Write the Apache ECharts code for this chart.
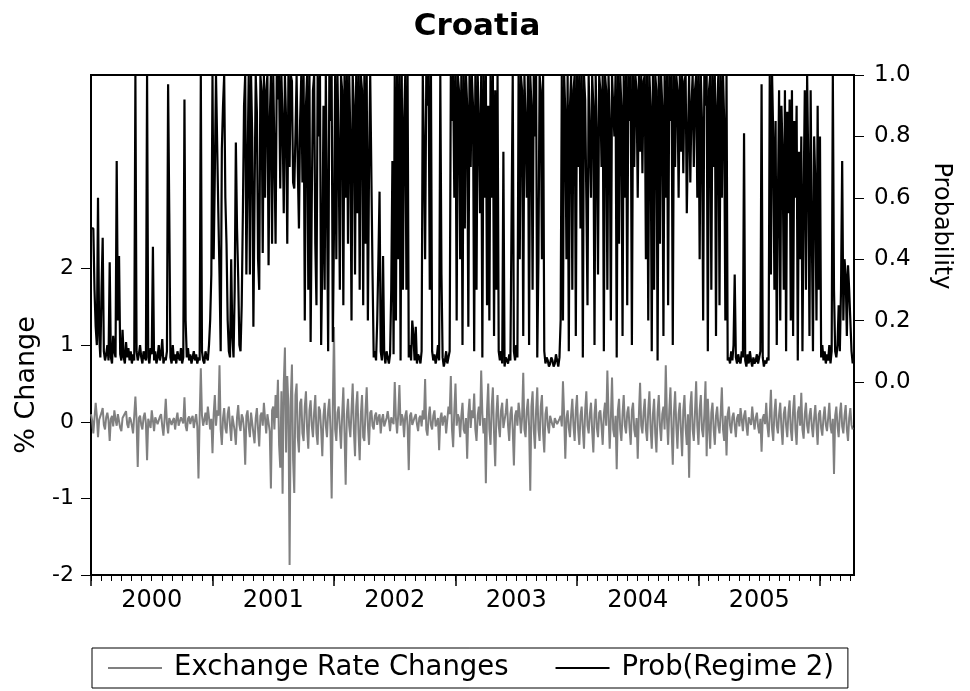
<!DOCTYPE html>
<html>
<head>
<meta charset="utf-8">
<title>Croatia</title>
<script src="https://cdn.jsdelivr.net/npm/echarts@6/dist/echarts.min.js"></script>
<style>
  html, body { margin: 0; padding: 0; background: #fff; }
  #chart { width: 970px; height: 691px; }
</style>
</head>
<body>
<div id="chart"></div>
<script>
// twice-weekly observations, starting at the beginning of 2000
var START_YEAR = 2000;
var STEP = 1 / 104;
var X_MAX = 2006.28;

// year boundaries (long ticks) and label positions (middle of each year)
var yearTicks = [2000, 2001, 2002, 2003, 2004, 2005, 2006];
var yearLabels = [2000.5, 2001.5, 2002.5, 2003.5, 2004.5, 2005.5];
var leftTicks = [-2, -1, 0, 1, 2];
var rightTicks = [0, 0.2, 0.4, 0.6, 0.8, 1.0];

// Exchange Rate Changes (% change), left axis
var rateChanges = [
  0.10, 0.02, -0.15, 0.05, 0.25, 0.08, -0.20, 0.03, 0.05, 0.12,
  0.18, -0.04, -0.10, 0.06, 0.12, 0.02, -0.25, 0.04, 0.08, -0.06,
  0.15, 0.03, -0.05, 0.10, 0.10, -0.08, -0.12, 0.05, 0.06, 0.11,
  0.14, -0.03, -0.08, 0.06, 0.03, -0.05, -0.15, 0.08, 0.33, 0.02,
  -0.59, 0.05, 0.08, -0.04, -0.10, 0.06, 0.12, -0.02, -0.50, 0.04,
  0.05, -0.08, 0.15, 0.02, -0.12, 0.06, 0.08, -0.03, -0.05, 0.07,
  0.10, -0.06, -0.18, 0.04, 0.30, -0.02, -0.15, 0.05, 0.06, -0.04,
  0.02, 0.05, -0.10, 0.03, 0.12, -0.05, -0.04, 0.06, 0.08, -0.02,
  0.32, -0.05, -0.12, 0.04, 0.07, -0.03, 0.04, 0.08, -0.08, 0.02,
  0.10, -0.06, -0.74, 0.05, 0.70, 0.08, -0.05, 0.03, 0.12, -0.04,
  0.20, 0.06, -0.10, 0.04, -0.41, 0.10, 0.35, -0.05, 0.15, 0.08,
  0.74, -0.10, -0.30, 0.05, 0.18, -0.08, -0.15, 0.10, 0.20, -0.05,
  -0.25, 0.08, 0.10, -0.12, -0.30, 0.06, 0.22, -0.04, -0.12, 0.10,
  0.05, -0.10, -0.56, 0.08, 0.15, -0.06, -0.20, 0.12, 0.10, -0.15,
  -0.28, 0.05, 0.18, -0.10, -0.32, 0.08, 0.12, -0.05, 0.25, 0.04,
  -0.15, 0.10, 0.08, -0.12, -0.87, 0.15, 0.20, -0.10, 0.35, 0.05,
  0.55, -0.30, -0.60, 0.40, -0.94, 0.50, 0.97, -0.40, 0.60, 0.20,
  -1.87, 0.30, 0.75, -0.50, -0.93, 0.35, 0.50, -0.20, -0.40, 0.25,
  0.30, -0.15, -0.25, 0.20, 0.40, -0.10, -0.35, 0.15, 0.28, -0.05,
  -0.20, 0.12, 0.35, -0.15, -0.30, 0.20, 0.15, -0.10, -0.45, 0.08,
  0.25, -0.05, -0.20, 0.15, 0.30, -0.10, -1.00, 0.20, 1.24, -0.10,
  -0.25, 0.12, 0.20, -0.08, -0.35, 0.10, 0.45, -0.15, -0.82, 0.10,
  0.30, -0.05, -0.20, 0.15, 0.50, -0.10, -0.45, 0.20, 0.40, -0.15,
  -0.50, 0.10, 0.35, -0.20, -0.25, 0.15, 0.45, -0.05, -0.30, 0.12,
  0.15, -0.05, -0.10, 0.08, 0.12, -0.04, 0.05, 0.10, -0.15, 0.03,
  0.10, -0.06, -0.08, 0.05, 0.14, 0.02, -0.12, 0.06, 0.08, -0.03,
  0.52, 0.05, -0.15, 0.10, 0.48, -0.05, 0.10, 0.04, -0.20, 0.08,
  0.15, -0.05, -0.63, 0.08, 0.12, -0.04, -0.05, 0.06, 0.10, -0.03,
  -0.12, 0.05, 0.08, -0.06, 0.15, 0.03, 0.56, -0.10, -0.18, 0.06,
  0.20, -0.04, -0.10, 0.08, 0.15, -0.06, -0.08, 0.05, -0.37, 0.04,
  0.12, -0.05, 0.05, 0.08, -0.15, 0.03, 0.20, 0.10, 0.60, -0.10,
  -0.33, 0.15, 0.50, -0.05, 0.10, 0.05, -0.20, 0.08, 0.25, -0.10,
  -0.15, 0.05, -0.48, 0.10, 0.30, -0.08, 0.15, 0.05, 0.37, -0.10,
  -0.25, 0.08, 0.20, -0.05, 0.67, 0.10, -0.15, 0.05, -0.80, 0.15,
  0.50, -0.10, -0.30, 0.20, 0.45, -0.15, -0.58, 0.10, 0.35, -0.05,
  -0.20, 0.15, 0.25, -0.08, -0.10, 0.12, 0.30, -0.05, -0.25, 0.10,
  0.20, -0.10, -0.57, 0.08, 0.15, -0.05, 0.25, 0.10, -0.15, 0.05,
  0.64, -0.10, -0.20, 0.15, 0.30, -0.05, -0.90, 0.20, 0.40, -0.10,
  -0.35, 0.15, 0.45, -0.10, -0.25, 0.20, 0.35, -0.15, -0.40, 0.10,
  0.20, -0.05, -0.15, 0.08, 0.10, -0.04, -0.08, 0.05, 0.06, -0.03,
  -0.05, 0.04, 0.08, -0.06, 0.53, 0.10, -0.48, 0.05, 0.15, -0.08,
  -0.20, 0.10, 0.30, -0.05, -0.25, 0.15, 0.35, -0.10, -0.30, 0.08,
  0.20, -0.10, -0.35, 0.15, 0.40, -0.05, -0.15, 0.10, 0.25, -0.12,
  -0.40, 0.10, 0.30, -0.08, -0.20, 0.12, 0.15, -0.05, -0.30, 0.10,
  0.25, -0.05, 0.67, 0.10, -0.35, 0.05, 0.58, -0.10, -0.20, 0.08,
  -0.62, 0.15, 0.30, -0.10, -0.25, 0.10, 0.35, -0.05, -0.15, 0.12,
  0.20, -0.08, -0.30, 0.15, 0.25, -0.10, -0.20, 0.05, -0.48, 0.10,
  0.51, -0.05, -0.15, 0.12, 0.30, -0.10, -0.25, 0.15, 0.40, -0.08,
  -0.35, 0.10, 0.30, -0.15, -0.40, 0.12, 0.35, -0.05, -0.25, 0.10,
  0.20, -0.10, 0.74, 0.05, -0.30, 0.15, 0.45, -0.10, -0.56, 0.12,
  0.40, -0.05, -0.35, 0.10, 0.25, -0.12, -0.45, 0.15, 0.35, -0.08,
  -0.30, 0.10, -0.73, 0.20, 0.40, -0.10, -0.25, 0.12, 0.53, -0.05,
  -0.30, 0.15, 0.35, -0.10, -0.20, 0.10, 0.53, -0.45, 0.30, -0.05,
  -0.35, 0.12, 0.25, -0.10, -0.30, 0.08, 0.20, -0.05, -0.15, 0.10,
  0.45, -0.10, -0.25, 0.08, -0.44, 0.10, 0.20, -0.05, -0.15, 0.06,
  0.12, -0.04, -0.20, 0.05, 0.10, -0.06, 0.18, 0.04, -0.12, 0.08,
  0.15, -0.05, -0.18, 0.06, 0.08, -0.04, 0.20, 0.03, -0.10, 0.05,
  0.12, -0.06, -0.15, 0.04, -0.39, 0.05, 0.10, -0.03, 0.25, -0.05,
  -0.20, 0.08, 0.42, -0.10, -0.25, 0.12, 0.30, -0.05, -0.15, 0.10,
  0.25, -0.08, -0.30, 0.10, 0.20, -0.05, -0.20, 0.12, 0.28, -0.10,
  -0.25, 0.15, 0.35, -0.10, -0.30, 0.12, 0.20, -0.05, 0.38, -0.10,
  -0.22, 0.10, 0.25, -0.05, -0.15, 0.08, 0.18, -0.06, -0.20, 0.05,
  0.22, -0.05, -0.30, 0.10, 0.15, -0.08, -0.18, 0.06, 0.20, -0.04,
  -0.12, 0.05, 0.25, -0.06, -0.15, 0.04, -0.68, 0.08, 0.20, -0.05,
  -0.20, 0.10, 0.25, -0.06, -0.15, 0.08, 0.22, -0.10, -0.25, 0.05,
  0.18, -0.04, -0.10
];

// Prob(Regime 2), right axis
var regimeProb = [
  0.50, 0.50, 0.50, 0.30, 0.18, 0.12, 0.60, 0.15, 0.08, 0.30,
  0.47, 0.10, 0.07, 0.09, 0.12, 0.07, 0.39, 0.08, 0.06, 0.15,
  0.10, 0.08, 0.72, 0.20, 0.41, 0.09, 0.07, 0.17, 0.08, 0.06,
  0.13, 0.08, 0.11, 0.07, 0.10, 0.06, 0.09, 0.07, 1.00, 0.10,
  0.07, 0.09, 0.12, 0.08, 0.06, 0.10, 0.08, 0.07, 1.00, 0.08,
  0.06, 0.11, 0.09, 0.44, 0.07, 0.10, 0.06, 0.08, 0.12, 0.07,
  0.09, 0.14, 0.06, 0.08, 0.07, 0.10, 0.97, 0.55, 0.08, 0.06,
  0.12, 0.07, 0.09, 0.06, 0.10, 0.08, 0.07, 0.11, 0.06, 0.08,
  0.92, 0.20, 0.08, 0.11, 0.07, 0.09, 0.06, 0.08, 0.10, 0.07,
  0.09, 0.06, 0.08, 0.07, 1.00, 0.10, 0.07, 0.06, 0.10, 0.08,
  0.07, 0.12, 0.20, 0.35, 1.00, 0.40, 0.68, 1.00, 1.00, 0.55,
  0.35, 0.10, 0.76, 0.90, 1.00, 0.60, 0.45, 0.20, 0.10, 0.08,
  0.40, 0.15, 0.08, 0.30, 0.78, 0.50, 0.34, 0.12, 0.10, 0.25,
  0.55, 0.90, 1.00, 0.35, 0.70, 1.00, 0.35, 1.00, 0.80, 0.18,
  0.60, 1.00, 0.88, 0.40, 0.30, 1.00, 0.95, 0.42, 1.00, 0.60,
  0.95, 1.00, 0.38, 0.85, 1.00, 0.45, 1.00, 0.75, 0.45, 1.00,
  0.92, 1.00, 0.63, 1.00, 0.85, 0.55, 1.00, 0.85, 0.45, 1.00,
  0.70, 1.00, 0.98, 0.65, 0.63, 0.80, 1.00, 0.70, 0.50, 0.85,
  1.00, 0.65, 1.00, 0.20, 0.90, 1.00, 0.30, 1.00, 0.13, 0.60,
  0.95, 1.00, 0.45, 0.25, 1.00, 0.80, 1.00, 0.12, 0.40, 0.90,
  0.30, 1.00, 0.60, 0.10, 1.00, 0.85, 1.00, 0.13, 0.50, 1.00,
  0.40, 1.00, 0.75, 0.30, 1.00, 0.95, 0.25, 1.00, 0.60, 1.00,
  0.45, 1.00, 0.80, 0.20, 1.00, 0.90, 0.35, 1.00, 0.55, 1.00,
  0.30, 1.00, 0.95, 0.25, 1.00, 0.45, 1.00, 0.20, 0.70, 1.00,
  1.00, 0.35, 0.08, 0.10, 0.07, 0.20, 0.40, 0.62, 0.10, 0.07,
  0.41, 0.09, 0.06, 0.10, 0.08, 0.06, 0.09, 0.30, 0.72, 0.09,
  1.00, 0.20, 1.00, 0.40, 1.00, 0.07, 1.00, 0.30, 0.85, 1.00,
  0.30, 1.00, 0.08, 0.12, 0.07, 0.20, 0.15, 0.07, 0.18, 0.06,
  0.09, 0.08, 0.06, 0.10, 1.00, 0.75, 0.40, 1.00, 0.90, 1.00,
  0.30, 1.00, 0.10, 0.07, 0.09, 0.06, 0.08, 0.12, 0.07, 1.00,
  0.35, 0.08, 0.05, 0.07, 0.10, 0.06, 0.08, 0.10, 1.00, 0.85,
  1.00, 0.60, 1.00, 0.20, 1.00, 0.95, 0.40, 1.00, 0.12, 1.00,
  0.50, 1.00, 0.90, 0.18, 1.00, 0.70, 1.00, 0.90, 0.10, 1.00,
  0.30, 1.00, 0.85, 0.55, 1.00, 0.08, 1.00, 0.60, 1.00, 0.25,
  0.90, 0.20, 1.00, 0.60, 1.00, 0.15, 0.95, 0.30, 1.00, 0.10,
  0.07, 0.10, 0.06, 0.75, 0.05, 0.08, 0.07, 0.06, 0.09, 0.07,
  0.07, 1.00, 0.10, 0.07, 0.12, 0.08, 1.00, 0.40, 1.00, 0.95,
  0.15, 1.00, 0.85, 0.60, 1.00, 0.12, 1.00, 0.90, 0.30, 1.00,
  0.80, 1.00, 0.08, 0.40, 1.00, 0.95, 0.40, 1.00, 0.10, 0.06,
  0.08, 0.07, 0.05, 0.06, 0.08, 0.07, 0.05, 0.06, 0.09, 0.07,
  0.05, 0.08, 0.20, 1.00, 0.20, 1.00, 0.88, 0.40, 1.00, 0.10,
  0.90, 1.00, 0.30, 0.95, 1.00, 0.15, 1.00, 0.70, 1.00, 0.50,
  1.00, 0.08, 1.00, 0.92, 0.60, 0.25, 1.00, 1.00, 0.60, 1.00,
  0.90, 0.12, 1.00, 0.80, 0.35, 1.00, 0.95, 0.70, 1.00, 0.10,
  1.00, 0.95, 0.30, 1.00, 0.85, 0.20, 1.00, 0.90, 0.80, 1.00,
  0.08, 1.00, 0.45, 1.00, 0.90, 0.15, 1.00, 0.60, 1.00, 0.25,
  1.00, 0.85, 1.00, 0.12, 1.00, 0.70, 1.00, 0.95, 0.60, 1.00,
  0.75, 1.00, 0.68, 0.98, 1.00, 0.40, 1.00, 0.20, 1.00, 0.90,
  0.10, 1.00, 0.30, 1.00, 0.95, 0.07, 1.00, 0.45, 1.00, 0.90,
  0.15, 1.00, 0.60, 1.00, 0.25, 1.00, 0.85, 1.00, 0.12, 1.00,
  0.70, 1.00, 0.95, 0.60, 1.00, 0.75, 1.00, 0.68, 0.98, 1.00,
  0.55, 0.80, 1.00, 0.65, 0.90, 1.00, 0.70, 0.95, 1.00, 0.60,
  1.00, 0.40, 1.00, 0.85, 0.20, 1.00, 0.90, 1.00, 0.10, 0.95,
  1.00, 0.30, 1.00, 0.70, 1.00, 0.15, 0.90, 1.00, 0.25, 1.00,
  0.60, 1.00, 0.85, 0.20, 1.00, 0.07, 0.08, 0.06, 0.10, 0.07,
  0.12, 0.35, 0.08, 0.06, 0.09, 0.07, 0.06, 0.10, 0.08, 0.81,
  0.07, 0.05, 0.09, 0.06, 0.10, 0.07, 0.05, 0.08, 0.06, 0.07,
  0.09, 0.06, 0.08, 0.10, 0.97, 0.08, 0.05, 0.07, 0.06, 0.08,
  0.07, 1.00, 0.35, 1.00, 0.80, 0.30, 0.85, 0.12, 0.60, 0.95,
  0.20, 0.90, 0.75, 0.30, 0.95, 0.10, 0.88, 0.55, 0.92, 0.20,
  0.95, 0.15, 0.85, 0.60, 0.90, 0.07, 0.75, 0.40, 0.80, 0.10,
  0.60, 0.95, 0.30, 1.00, 0.70, 0.15, 0.95, 0.50, 0.10, 0.80,
  0.65, 0.20, 0.90, 0.30, 0.80, 0.08, 0.12, 0.07, 0.10, 0.06,
  0.09, 0.07, 0.12, 0.06, 0.10, 1.00, 0.30, 0.10, 0.08, 0.12,
  0.25, 0.10, 0.30, 0.72, 0.20, 0.40, 0.35, 0.15, 0.38, 0.30,
  0.20, 0.10, 0.06
];

var FONT = 'DejaVu Sans';

// monthly tick marks along the date axis
var monthTicks = [];
for (var y = START_YEAR; y <= 2006; y++) {
  for (var m = 0; m < 12; m++) {
    var v = y + m / 12;
    if (v <= X_MAX) monthTicks.push(v);
  }
}

function toPairs(arr) {
  return arr.map(function (val, i) {
    return [START_YEAR + i * STEP, val];
  });
}

var chart = echarts.init(document.getElementById('chart'), null, { renderer: 'canvas' });

var option = {
  backgroundColor: '#fff',
  animation: false,
  title: {
    text: 'Croatia',
    left: 472,
    top: 6,
    textAlign: 'center',
    textStyle: { fontFamily: FONT, fontWeight: 'bold', fontSize: 31, color: '#000' }
  },
  grid: {
    left: 91, right: 116, top: 75, bottom: 116,
    show: true, borderColor: '#000', borderWidth: 2, backgroundColor: '#fff'
  },
  legend: {
    left: 92,
    top: 648,
    padding: [5, 14, 5, 15],
    borderColor: '#000',
    borderWidth: 1,
    itemWidth: 54,
    itemHeight: 14,
    itemGap: 46,
    itemStyle: { opacity: 0 },
    textStyle: { fontFamily: FONT, fontSize: 27.5, color: '#000', lineHeight: 30, padding: [0, 0, 0, 7] },
    data: ['Exchange Rate Changes', 'Prob(Regime 2)']
  },
  xAxis: [{
    type: 'value',
    position: 'bottom',
    min: START_YEAR,
    max: X_MAX,
    axisLine: { onZero: false, lineStyle: { color: '#000', width: 2 } },
    axisTick: { show: true, inside: false, length: 6, customValues: monthTicks, lineStyle: { color: '#000', width: 1 } },
    axisLabel: {
      customValues: yearLabels,
      margin: 14,
      fontFamily: FONT, fontSize: 24, color: '#000',
      formatter: function (v) { return String(Math.floor(v)); }
    },
    splitLine: { show: false }
  }, {
    type: 'value',
    position: 'bottom',
    min: START_YEAR,
    max: X_MAX,
    axisLine: { show: false, onZero: false },
    axisTick: { show: true, inside: false, length: 11, customValues: yearTicks, lineStyle: { color: '#000', width: 1.5 } },
    axisLabel: { show: false },
    splitLine: { show: false }
  }],
  yAxis: [{
    type: 'value',
    position: 'left',
    min: -2,
    max: 4.53,
    axisLine: { show: true, onZero: false, lineStyle: { color: '#000', width: 2 } },
    axisTick: { show: true, inside: false, length: 10, customValues: leftTicks, lineStyle: { color: '#000', width: 1 } },
    axisLabel: { customValues: leftTicks, margin: 17, fontFamily: FONT, fontSize: 22, color: '#000' },
    splitLine: { show: false }
  }, {
    type: 'value',
    position: 'right',
    min: -0.629,
    max: 1.0,
    axisLine: { show: true, onZero: false, lineStyle: { color: '#000', width: 2 } },
    axisTick: { show: true, inside: false, length: 10, customValues: rightTicks, lineStyle: { color: '#000', width: 1 } },
    axisLabel: {
      customValues: rightTicks, margin: 20, fontFamily: FONT, fontSize: 23, color: '#000',
      formatter: function (v) { return v.toFixed(1); }
    },
    splitLine: { show: false }
  }],
  graphic: [{
    type: 'text',
    x: 27, y: 385,
    rotation: Math.PI / 2,
    style: { text: '% Change', fontFamily: FONT, fontSize: 27, fill: '#000', align: 'center', verticalAlign: 'middle' }
  }, {
    type: 'text',
    x: 941, y: 226,
    rotation: -Math.PI / 2,
    style: { text: 'Probability', fontFamily: FONT, fontSize: 24, fill: '#000', align: 'center', verticalAlign: 'middle' }
  }],
  series: [{
    name: 'Exchange Rate Changes',
    type: 'line',
    xAxisIndex: 0,
    yAxisIndex: 0,
    symbol: 'none',
    color: '#808080',
    lineStyle: { color: '#808080', width: 2 },
    data: toPairs(rateChanges),
    z: 2
  }, {
    name: 'Prob(Regime 2)',
    type: 'line',
    xAxisIndex: 0,
    yAxisIndex: 1,
    symbol: 'none',
    color: '#000',
    lineStyle: { color: '#000', width: 2.2 },
    data: toPairs(regimeProb),
    z: 3
  }]
};

chart.setOption(option);
</script>
</body>
</html>
